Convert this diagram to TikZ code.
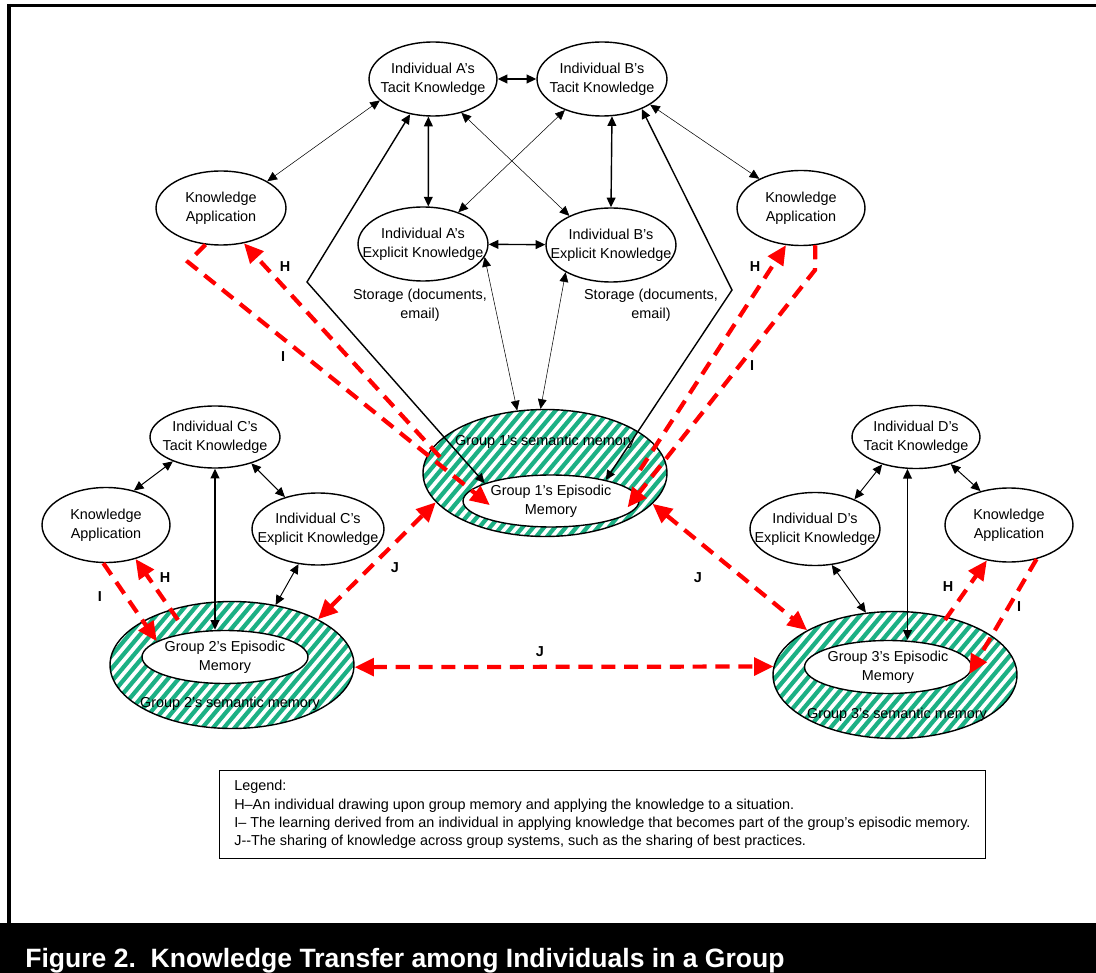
\documentclass[tikz,border=0pt]{standalone}
\usepackage{fontspec}
\setmainfont{Liberation Sans}
\usetikzlibrary{shapes.geometric,arrows.meta}
\definecolor{memgreen}{RGB}{28,176,132}

\begin{document}
\begin{tikzpicture}[x=0.02cm,y=-0.02cm,>={Triangle[length=5.5pt,width=5pt]}]
      \tikzstyle{know}=[ellipse,draw,line width=0.8pt,minimum width=2.6cm,minimum height=1.48cm,inner sep=0pt,inner xsep=-15pt,align=center,font=\fontsize{8.2}{10.8}\selectfont]
      \tikzstyle{epi}=[know,fill=white,minimum width=3.4cm,minimum height=1.06cm]
      \tikzstyle{sem}=[know,minimum width=4.88cm,minimum height=2.54cm]
      \tikzstyle{txt}=[align=center,inner sep=0pt,font=\fontsize{8.2}{10.8}\selectfont]
      \tikzstyle{lbl}=[inner sep=0pt,font=\bfseries\fontsize{8.2}{10}\selectfont]
      \tikzstyle{strong}=[line width=0.8pt]
      \tikzstyle{med}=[line width=0.55pt]
      \tikzstyle{fine}=[line width=0.3pt]
      \tikzstyle{gdash}=[draw=red,line width=2.4pt,dash pattern=on 8pt off 5pt,>={Triangle[length=11pt,width=10pt]}]
      \tikzstyle{hatch}=[draw=memgreen,line width=2.4pt]

      \useasboundingbox (0,0) rectangle (1096,973);
      \draw[line width=2pt] (7,5.5) -- (1096,5.5);
      \draw[line width=2.4pt] (9,4) -- (9,923);
      \fill (0,923) rectangle (1096,973);

      % striped group memories
      \foreach \cx/\cy in {545/473,232/665,895/675} {
        \begin{scope}
          \clip (\cx,\cy) ellipse [x radius=2.44cm,y radius=1.27cm];
          \foreach \k in {0,...,36}
            \draw[hatch] (\cx-250+10.8*\k,\cy+68) -- (\cx-136+10.8*\k,\cy-68);
        \end{scope}
      }

      \node[know,minimum width=2.56cm] (tA) at (433,79) {Individual A’s\\Tacit Knowledge};
      \node[know] (tB) at (602,79) {Individual B’s\\Tacit Knowledge};
      \node[know] (eA) at (423,244) {Individual A’s\\Explicit Knowledge};
      \node[know] (eB) at (611,245) {Individual B’s\\Explicit Knowledge};
      \node[know] (appA) at (221,208) {Knowledge\\Application};
      \node[know,minimum width=2.56cm,minimum height=1.5cm] (appB) at (801,208) {Knowledge\\Application};
      \node[txt] (stA) at (420,305) {Storage (documents,\\email)};
      \node[txt] (stB) at (651,305) {Storage (documents,\\email)};

      \node[sem] (sem1) at (545,473) {};
      \node[epi,minimum width=3.52cm,minimum height=1.04cm] (epi1) at (551,501) {Group 1’s Episodic\\Memory};
      \node[txt] (semtxt1) at (545,442) {Group 1’s semantic memory};

      \node[know,minimum height=1.24cm] (tC) at (215,437) {Individual C’s\\Tacit Knowledge};
      \node[know,minimum width=2.56cm,minimum height=1.5cm] (appC) at (106,525) {Knowledge\\Application};
      \node[know,minimum width=2.64cm,minimum height=1.44cm] (eC) at (318,529) {Individual C’s\\Explicit Knowledge};
      \node[sem] (sem2) at (232,665) {};
      \node[epi,minimum width=3.32cm] (epi2) at (225,657) {Group 2’s Episodic\\Memory};
      \node[txt] (semtxt2) at (230,704) {Group 2’s semantic memory};

      \node[know,minimum width=2.56cm,minimum height=1.26cm] (tD) at (916,437) {Individual D’s\\Tacit Knowledge};
      \node[know,minimum height=1.46cm] (eD) at (815,529) {Individual D’s\\Explicit Knowledge};
      \node[know,minimum width=2.56cm] (appD) at (1009,525) {Knowledge\\Application};
      \node[sem] (sem3) at (895,675) {};
      \node[epi,minimum width=3.34cm] (epi3) at (888,667) {Group 3’s Episodic\\Memory};
      \node[txt] (semtxt3) at (897,715) {Group 3’s semantic memory};

      \coordinate (kinkA) at (307,282);
      \coordinate (kinkB) at (732,290);
      \coordinate (bendA) at (188,262);
      \coordinate (bendB) at (815,270);
      \coordinate (h1a) at (440,457);
      \coordinate (h1b) at (640,470);
      \coordinate (h2) at (178,620);
      \coordinate (h3) at (945,620);

      \draw[strong,<->] (tA) -- (tB);
      \draw[strong,<->] (tA.-97) -- (eA.82);
      \draw[strong,<->] (tB.-75) -- (eB.north);
      \draw[strong,<->] (eA) -- (eB);
      \draw[fine,<->] (tA.-50) -- (eB.145);
      \draw[fine,<->] (tB.220) -- (eA.42);
      \draw[fine,<->] (tA.202) -- (appA.30);
      \draw[fine,<->] (tB.-28) -- (appB.145);
      \draw[fine,<->] (eA.-12) -- (sem1.114);
      \draw[fine,<->] (eB.211) -- (sem1.94);
      \draw[strong,<->] (tA.237) -- (kinkA) -- (epi1.165);
      \draw[strong,<->] (tB.-37) -- (kinkB) -- (epi1.21);

      \draw[med,<->] (tC.210) -- (appC.51);
      \draw[med,<->] (tC.-36) -- (eC.136);
      \draw[strong,<->] (tC.south) -- (tC.south |- epi2.north);
      \draw[med,<->] (eC.-119) -- (sem2.54);

      \draw[med,<->] (tD.-141) -- (eD.37);
      \draw[med,<->] (tD.-38) -- (appD.130);
      \draw[strong,<->] (tD.-105) -- (tD.-105 |- epi3.north);
      \draw[med,<->] (eD.-65) -- (sem3.115);

      \draw[gdash,->,shorten >=-14pt] (appA.-113) -- (bendA) -- (epi1.172);
      \draw[gdash,->] (h1a) -- (appA.-57);
      \draw[gdash,->] (h1b) -- (appB.-112);
      \draw[gdash,->,shorten >=-9pt] (appB.-69) -- (bendB) -- (epi1.4);
      \draw[gdash,->] (appC.-94) -- (epi2.167);
      \draw[gdash,->] (h2) -- (appC.-49);
      \draw[gdash,->] (h3) -- (appD.-122);
      \draw[gdash,->] (appD.-51) -- (epi3.-5);
      \draw[gdash,<->] (sem2.28) -- (sem1.195);
      \draw[gdash,<->] (sem2.-1) -- (sem3.176);
      \draw[gdash,<->] (sem1.-16) -- (sem3.153);

      \node[lbl] (lH1) at (285,267) {H};
      \node[lbl] (lI1) at (283,357) {I};
      \node[lbl] (lH2) at (755,267) {H};
      \node[lbl] (lI2) at (752,366) {I};
      \node[lbl] (lJ1) at (395,568) {J};
      \node[lbl] (lJ2) at (698,578) {J};
      \node[lbl] (lJ3) at (540,652) {J};
      \node[lbl] (lH3) at (165,578) {H};
      \node[lbl] (lI3) at (100,597) {I};
      \node[lbl] (lH4) at (948,587) {H};
      \node[lbl] (lI4) at (1019,607) {I};

      \node[draw,line width=0.6pt,anchor=north west,minimum width=15.32cm,minimum height=1.76cm,align=left,font=\fontsize{8.2}{10.5}\selectfont] (legend) at (219,770)
        {Legend:\\H--An individual drawing upon group memory and applying the knowledge to a situation.\\I– The learning derived from an individual in applying knowledge that becomes part of the group’s episodic memory.\\J-{}-The sharing of knowledge across group systems, such as the sharing of best practices.};

      \node[anchor=base west,inner sep=0pt,text=white,font=\bfseries\fontsize{15.1}{18}\selectfont] (cap) at (25,967) {Figure 2.\ \ Knowledge Transfer among Individuals in a Group};
    \end{tikzpicture}
\end{document}
